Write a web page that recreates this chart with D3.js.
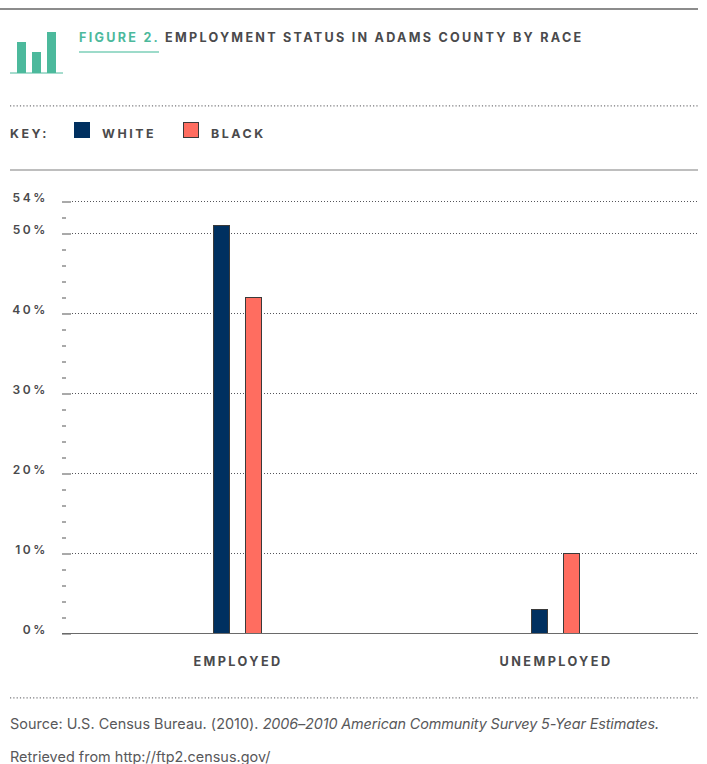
<!DOCTYPE html>
<html>
<head>
<meta charset="utf-8">
<script src="https://cdn.jsdelivr.net/npm/d3@7/dist/d3.min.js"></script>
<style>
html, body { margin: 0; padding: 0; background: #fff; }
svg { display: block; font-family: "Inter", "Lato", sans-serif; }
.caps { font-weight: 700; fill: #4a4a4c; }
.source { font-size: 14.4px; fill: #58585a; letter-spacing: 0.04px; }
.source .title { font-style: italic; letter-spacing: -0.12px; }
</style>
</head>
<body>
<svg id="chart" width="707" height="764"></svg>
<script>
const categories = ["EMPLOYED", "UNEMPLOYED"];
const seriesNames = ["WHITE", "BLACK"];
const whiteValues = [51, 3];
const blackValues = [42, 10];
const labelledTicks = [0, 10, 20, 30, 40, 50, 54];
const minorTicks = [2, 4, 6, 8, 12, 14, 16, 18, 22, 24, 26, 28, 32, 34, 36, 38, 42, 44, 46, 48, 52];
const seriesColors = ["#003060", "#ff6d60"];
const iconHeights = [31, 21, 41];

const svg = d3.select("#chart");
const teal = "#4cb99c";

const y = d3.scaleLinear().domain([0, 54]).range([633.5, 201.5]);
const x0 = d3.scaleBand().domain(categories).range([78, 714]);
const x1 = d3.scaleBand().domain(seriesNames).range([x0.bandwidth() / 2 - 24, x0.bandwidth() / 2 + 24]).paddingInner(0.5).paddingOuter(0);

// Page furniture: rules above and below the header and key
svg.append("line").attr("x1", 0).attr("x2", 698).attr("y1", 9).attr("y2", 9)
  .attr("stroke", "#1a1a1a").attr("stroke-width", 1.2);
const dotted = (yy) => svg.append("line").attr("x1", 10).attr("x2", 698).attr("y1", yy).attr("y2", yy)
  .attr("stroke", "#77777a").attr("stroke-width", 1.2).attr("stroke-dasharray", "1.2 2.1");
dotted(105.8);
dotted(697.8);
svg.append("line").attr("x1", 10).attr("x2", 698).attr("y1", 170).attr("y2", 170)
  .attr("stroke", "#a8a8a8").attr("stroke-width", 1.4);

// Bar-chart emblem beside the title
const icon = svg.append("g");
const iconX = d3.scaleBand().domain(d3.range(iconHeights.length)).range([17, 56]).paddingInner(0.4);
icon.selectAll("rect").data(iconHeights).join("rect")
  .attr("x", (d, i) => iconX(i)).attr("width", 9)
  .attr("y", d => 73 - d).attr("height", d => d).attr("fill", teal);
icon.append("line").attr("x1", 10).attr("x2", 63).attr("y1", 73).attr("y2", 73)
  .attr("stroke", teal).attr("stroke-width", 1);

// Title
const title = svg.append("text").attr("x", 79).attr("y", 41.5).attr("class", "caps")
  .attr("font-size", 12.6).attr("letter-spacing", "2.27px");
title.append("tspan").style("fill", teal).text("FIGURE 2.");
title.append("tspan").attr("dx", 5).text("EMPLOYMENT STATUS IN ADAMS COUNTY BY RACE");
svg.append("line").attr("x1", 79).attr("x2", 159).attr("y1", 52).attr("y2", 52)
  .attr("stroke", "#7dcfb8").attr("stroke-width", 1.5);

// Key
const keyText = (xx, t) => svg.append("text").attr("x", xx).attr("y", 138).attr("class", "caps")
  .attr("font-size", 12.4).attr("letter-spacing", "2.55px").text(t);
keyText(10, "KEY:");
const keyX = [74, 183];
const keyLabelX = [102, 211];
seriesNames.forEach((name, i) => {
  svg.append("rect").attr("x", keyX[i] + 0.5).attr("y", 122.5).attr("width", 15).attr("height", 15)
    .attr("fill", seriesColors[i]).attr("stroke", i ? "#3a3a3a" : seriesColors[i]);
  keyText(keyLabelX[i], name);
});

// Gridlines at labelled values
svg.append("g").selectAll("line").data(labelledTicks.filter(d => d > 0)).join("line")
  .attr("x1", 72).attr("x2", 698).attr("y1", d => y(d)).attr("y2", d => y(d))
  .attr("stroke", "#55555a").attr("stroke-width", 1).attr("stroke-dasharray", "1 2");

// Y axis: long ticks with labels, short unlabelled ticks
const axisMajor = svg.append("g").attr("transform", "translate(62,0)")
  .call(d3.axisRight(y).tickValues(labelledTicks).tickSize(9).tickFormat(""));
axisMajor.select(".domain").remove();
axisMajor.selectAll("line").attr("stroke", "#555");
const axisMinor = svg.append("g").attr("transform", "translate(62,0)")
  .call(d3.axisRight(y).tickValues(minorTicks).tickSize(4).tickFormat(""));
axisMinor.select(".domain").remove();
axisMinor.selectAll("line").attr("stroke", "#555");

svg.append("g").selectAll("text").data(labelledTicks).join("text")
  .attr("x", 48).attr("y", d => y(d))
  .attr("text-anchor", "end").attr("class", "caps")
  .style("font-weight", 600)
  .attr("font-size", 12).attr("letter-spacing", "2.6px")
  .text(d => d + "%");

// Bars, one group per category
const rows = categories.map((c, i) => ({ c, vals: [whiteValues[i], blackValues[i]] }));
const groups = svg.append("g").selectAll("g").data(rows).join("g")
  .attr("transform", d => `translate(${x0(d.c)},0)`);
groups.selectAll("rect").data(d => d.vals.map((v, i) => ({ v, i }))).join("rect")
  .attr("x", d => x1(seriesNames[d.i]) + 0.5)
  .attr("width", x1.bandwidth())
  .attr("y", d => y(d.v))
  .attr("height", d => y(0) - y(d.v))
  .attr("fill", d => seriesColors[d.i])
  .attr("stroke", "#3a3a3a").attr("stroke-width", 1);

// Baseline
svg.append("line").attr("x1", 62).attr("x2", 698).attr("y1", y(0)).attr("y2", y(0))
  .attr("stroke", "#6a6a6a").attr("stroke-width", 1.2);

// Category labels
svg.append("g").selectAll("text").data(categories).join("text")
  .attr("x", d => x0(d) + x0.bandwidth() / 2 + 1).attr("y", 665.5)
  .attr("text-anchor", "middle").attr("class", "caps")
  .attr("font-size", 12.7).attr("letter-spacing", "2.4px").text(d => d);

// Source note
const src = svg.append("text").attr("x", 10).attr("y", 729).attr("class", "source");
src.append("tspan").text("Source: U.S. Census Bureau. (2010). ");
src.append("tspan").attr("class", "title").text("2006–2010 American Community Survey 5-Year Estimates.");
svg.append("text").attr("x", 10).attr("y", 762).attr("class", "source").text("Retrieved from http://ftp2.census.gov/");
</script>
</body>
</html>
